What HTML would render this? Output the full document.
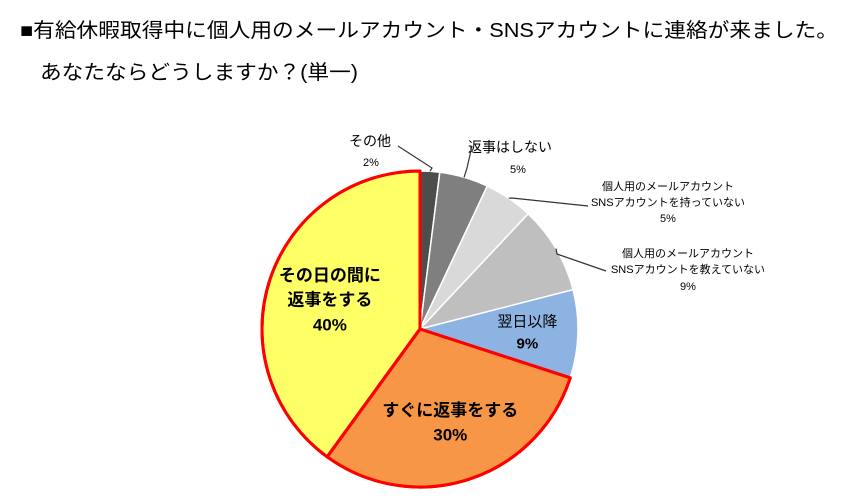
<!DOCTYPE html>
<html><head><meta charset="utf-8"><style>
html,body{margin:0;padding:0;background:#fff;}
svg{display:block;font-family:"Liberation Sans","Noto Sans CJK JP",sans-serif;}
</style></head><body>
<svg id="chart" width="864" height="500" viewBox="0 0 864 500">
<text x="20" y="37" font-size="20" fill="#000" textLength="818" lengthAdjust="spacingAndGlyphs">■有給休暇取得中に個人用のメールアカウント・SNSアカウントに連絡が来ました。</text>
<text x="40" y="79" font-size="20" fill="#000" textLength="318" lengthAdjust="spacingAndGlyphs">あなたならどうしますか？(単一)</text>
<g id="slices"></g>
<g id="labels"></g>
</svg>
<script>
const categories = ["その他","返事はしない","個人用のメールアカウント\nSNSアカウントを持っていない","個人用のメールアカウント\nSNSアカウントを教えていない","翌日以降","すぐに返事をする","その日の間に\n返事をする"];
const values = [2,5,5,9,9,30,40];
const valueLabels = ["2%","5%","5%","9%","9%","30%","40%"];
const colors = ["#4d4d4d","#7f7f7f","#d9d9d9","#bfbfbf","#8db3e2","#f79646","#ffff66"];

const cx=420, cy=329, r=158;
const NS="http://www.w3.org/2000/svg";
const total = values.reduce((a,b)=>a+b,0);
function pt(frac, rad){const a=frac*2*Math.PI;return [cx+rad*Math.sin(a), cy-rad*Math.cos(a)];}
const sg=document.getElementById('slices');
let cum=0;
const mids=[];
values.forEach((v,i)=>{
  const f0=cum/total, f1=(cum+v)/total; cum+=v;
  mids.push((f0+f1)/2);
  const [x0,y0]=pt(f0,r), [x1,y1]=pt(f1,r);
  const large=(f1-f0)>0.5?1:0;
  const p=document.createElementNS(NS,'path');
  p.setAttribute('d',`M${cx},${cy} L${x0},${y0} A${r},${r} 0 ${large} 1 ${x1},${y1} Z`);
  p.setAttribute('fill',colors[i]);
  const hi = i>=5;
  p.setAttribute('stroke',hi?'#ff0000':'#ffffff');
  p.setAttribute('stroke-width',hi?3:1.5);
  p.setAttribute('stroke-linejoin','round');
  
  
  sg.appendChild(p);
});
// redraw red outlines on top
cum=0;
values.forEach((v,i)=>{
  const f0=cum/total, f1=(cum+v)/total; cum+=v;
  if(i<5) return;
  const [x0,y0]=pt(f0,r), [x1,y1]=pt(f1,r);
  const p=document.createElementNS(NS,'path');
  p.setAttribute('d',`M${cx},${cy} L${x0},${y0} A${r},${r} 0 ${(f1-f0)>0.5?1:0} 1 ${x1},${y1} Z`);
  p.setAttribute('fill','none');p.setAttribute('stroke','#ff0000');p.setAttribute('stroke-width',3);
  p.setAttribute('stroke-linejoin','round');
  
  
  sg.appendChild(p);
});
const lg=document.getElementById('labels');
function txt(x,y,s,size,bold,anchor){
  const t=document.createElementNS(NS,'text');
  t.setAttribute('x',x);t.setAttribute('y',y);t.setAttribute('font-size',size);
  if(bold)t.setAttribute('font-weight','bold');
  t.setAttribute('text-anchor',anchor||'middle');t.setAttribute('fill','#000');
  t.textContent=s;
  
  
  lg.appendChild(t);return t;
}
function line(pts){
  const l=document.createElementNS(NS,'polyline');
  l.setAttribute('points',pts.map(p=>p.join(',')).join(' '));
  l.setAttribute('fill','none');l.setAttribute('stroke','#333');l.setAttribute('stroke-width',1.2);
  
  
  lg.appendChild(l);
}
// outside labels positions (layout)
const outside=[
  {lx:370,ly:146,sz:14,pct:[371,166],lead:[[398,146],[432,168]]},
  {lx:510,ly:152,sz:14,pct:[518,173],lead:[[472,146],[467,168]]},
  {lx:668,ly:190,sz:11,pct:[668,222],lead:[[588,206],[512,198]]},
  {lx:688,ly:257,sz:11,pct:[688,290],lead:[[606,271],[557,254]]}
];
outside.forEach((o,i)=>{
  const lines=categories[i].split('\n');
  lines.forEach((s,k)=>txt(o.lx,o.ly+k*16,s,o.sz,false));
  txt(o.pct[0],o.pct[1],valueLabels[i],11,false);
  const m=pt(mids[i],r);
  line([o.lead[0],o.lead[1],m.map(v=>v)]);
});
// inside labels
const inside={4:[0.68,15],5:[0.62,17],6:[0.6,17]};
Object.keys(inside).forEach(k=>{
  const i=+k,[fr,sz]=inside[k];
  const [x,y]=pt(mids[i],r*fr);
  const lines=categories[i].split('\n');
  const n=lines.length+1, lh=sz*1.45;
  let y0=y-(n-1)*lh/2+sz*0.35;
  lines.forEach((s,j)=>txt(x,y0+j*lh,s,sz,i!==4));
  txt(x,y0+lines.length*lh,valueLabels[i],sz,true);
});
</script>
</body></html>
